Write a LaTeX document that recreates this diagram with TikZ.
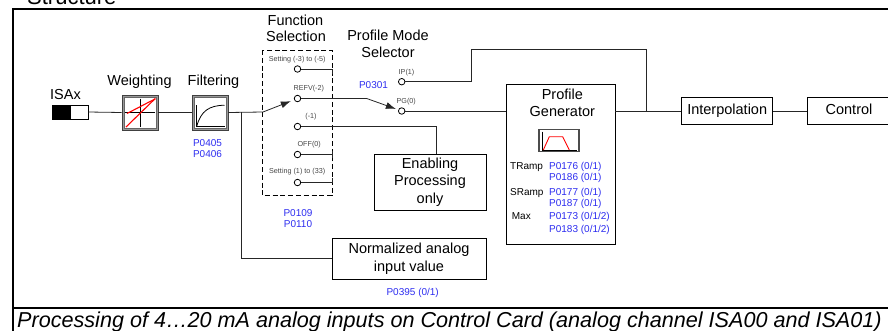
\documentclass[tikz,border=0pt]{standalone}
\usepackage{fontspec}
\setmainfont{Liberation Sans}
\usetikzlibrary{arrows.meta}
\definecolor{pblue}{RGB}{45,45,240}
\definecolor{lgray}{RGB}{70,70,70}
\begin{document}
\begin{tikzpicture}[x=1pt,y=-1pt,
  conn/.style={line width=0.8pt, draw=black!85},
  box/.style={draw=black, line width=0.8pt, fill=white, inner sep=0pt, align=center,
              font=\fontsize{14.5}{17.5}\selectfont},
  onebox/.style={box, text height=10.5pt, text depth=3pt},
  bevel/.style={draw=black!75, line width=0.7pt, fill=black!40, inner sep=0pt},
  big/.style={font=\fontsize{14.5}{17}\selectfont, inner sep=0pt, anchor=base},
  par/.style={font=\fontsize{10}{12}\selectfont, text=pblue, inner sep=0pt, anchor=base},
  parl/.style={font=\fontsize{10}{12}\selectfont, text=pblue, inner sep=0pt, anchor=base west},
  lbl/.style={font=\fontsize{10}{12}\selectfont, inner sep=0pt, anchor=base west},
  sw/.style={font=\fontsize{7.2}{8.5}\selectfont, text=lgray, inner sep=0pt, anchor=base},
  contact/.style={circle, draw=black, line width=0.8pt, fill=white, minimum size=6.5pt, inner sep=0pt},
  arr/.style={-{Latex[length=10pt,width=7pt]}}
]
\useasboundingbox (0,0) rectangle (888,330);

% heading (mostly cut off) and frame
\node[font=\fontsize{22}{26}\selectfont, inner sep=0pt, anchor=base west] (hdr) at (27,4) {Structure};
\draw[line width=2pt] (13,345) -- (13,9) -- (905,9);
\draw[line width=2.3pt] (12,308) -- (905,308);
\node[font=\fontsize{21.6}{24}\selectfont\itshape, inner sep=0pt, anchor=base west] (cap) at (17,327.5)
  {Processing of 4…20 mA analog inputs on Control Card (analog channel ISA00 and ISA01)};

% ISAx connector
\node[big] (isaxl) at (65.5,99) {ISAx};
\node[draw=black, line width=0.8pt, minimum width=36pt, minimum height=14pt, inner sep=0pt] (isax) at (70,112) {};
\fill (isax.north west) rectangle ([xshift=19pt]isax.south west);

% Weighting
\node[big] (wtl) at (139.5,85) {Weighting};
\node[bevel, minimum width=36pt, minimum height=35pt] (wt) at (140,112.5) {};
\draw[draw=black!60, fill=white, line width=0.5pt] ([shift={(2.6,2.6)}]wt.north west) rectangle ([shift={(-2.6,-2.6)}]wt.south east);
\draw[line width=0.7pt] (140,98.5) -- (140,127);
\draw[line width=0.7pt] (125,112.5) -- (155,112.5);
\draw[red, line width=1.1pt] (126,127) -- (155.3,98.5);
\draw[red, line width=1.1pt] (127,113.5) -- (155.3,98.8);

% Filtering
\node[big] (fltl) at (213.5,85) {Filtering};
\node[bevel, minimum width=36pt, minimum height=35pt] (flt) at (210,112.5) {};
\draw[draw=black!60, fill=white, line width=0.5pt] ([shift={(2.6,2.6)}]flt.north west) rectangle ([shift={(-2.6,-2.6)}]flt.south east);
\draw[line width=0.7pt] (196.3,105) -- (196.3,126.5) -- (225,126.5);
\draw[line width=0.8pt] (196.8,126) .. controls (201,111) and (209,105.5) .. (224.5,105.2);
\node[par] (p405) at (207.5,146.6) {P0405};
\node[par] (p406) at (207.5,157.6) {P0406};

% Function selection
\node[big] (fs1) at (295.5,25.7) {Function};
\node[big] (fs2) at (296,41.7) {Selection};
\draw[line width=0.9pt, dash pattern=on 5pt off 2.8pt] (262,50) rectangle (332,195.5);
\node[contact] (c1) at (297.5,69) {};
\node[contact] (c2) at (297.5,98.5) {};
\node[contact] (c3) at (297.5,126.5) {};
\node[contact] (c4) at (297.5,154.5) {};
\node[contact] (c5) at (297.5,182.5) {};
\node[sw] (s1) at (297.2,61.2) {Setting (-3) to (-5)};
\node[sw] (s2) at (308.8,90.8) {REFV(-2)};
\node[sw] (s3) at (311,118.8) {(-1)};
\node[sw] (s4) at (309.2,146) {OFF(0)};
\node[sw] (s5) at (297.2,173.2) {Setting (1) to (33)};
\node[par] (p109) at (298,216) {P0109};
\node[par] (p110) at (298,227.6) {P0110};

\coordinate (e1) at (332,69);
\coordinate (e1b) at (332,74);
\coordinate (e4) at (332,154.5);
\coordinate (e4a) at (332,151);
\coordinate (e4b) at (332,158);
\coordinate (e5) at (332,182.5);
\coordinate (e5a) at (332,177.5);
\draw[conn] (c1.east) -- (e1) -- (e1b);
\draw[conn] (c4.east) -- (e4);
\draw[conn] (e4a) -- (e4b);
\draw[conn] (c5.east) -- (e5) -- (e5a);

% Profile mode selector
\node[big] (pm1) at (388,40) {Profile Mode};
\node[big] (pm2) at (388,57.3) {Selector};
\node[par] (p301) at (373.5,88) {P0301};
\node[contact] (ip) at (401.7,81.7) {};
\node[contact] (pg0) at (401.7,111) {};
\node[sw] (ipl) at (406.5,74.4) {IP(1)};
\node[sw] (pgl) at (406.2,103.4) {PG(0)};

% Enabling processing only
\node[box, minimum width=112pt, minimum height=56pt] (en) at (430,182)
  {Enabling\\Processing\\only};

% Normalized analog input value
\node[box, minimum width=154pt, minimum height=41pt] (nrm) at (409,258.5)
  {Normalized analog\\input value};
\node[par] (p395) at (412.7,295.3) {P0395 (0/1)};

% Profile generator
\node[draw=black, line width=0.8pt, fill=white, minimum width=108.3pt, minimum height=160pt, inner sep=0pt] (pgen) at (560.85,164.3) {};
\node[big] (pg1) at (562.3,99.3) {Profile};
\node[big] (pg2) at (562.3,116.7) {Generator};
\node[draw=black!70, line width=1.1pt, fill=white, minimum width=40pt, minimum height=22.4pt, inner sep=0pt] (ramp) at (559,140.5) {};
\draw[line width=0.6pt] (542,131.5) -- (542,150) -- (576.5,150);
\draw[red, line width=0.9pt] (543.3,150) -- (549.3,136.7) -- (562.7,136.7) -- (569.3,150);
\node[lbl] (tr) at (510,169.3) {TRamp};
\node[parl] (p176) at (549,169.3) {P0176 (0/1)};
\node[parl] (p186) at (549,180.3) {P0186 (0/1)};
\node[lbl] (sr) at (510,195.3) {SRamp};
\node[parl] (p177) at (549,195.3) {P0177 (0/1)};
\node[parl] (p187) at (549,206.9) {P0187 (0/1)};
\node[lbl] (mx) at (511.7,219.6) {Max};
\node[parl] (p173) at (549,219.6) {P0173 (0/1/2)};
\node[parl] (p183) at (549,232.9) {P0183 (0/1/2)};

% Interpolation and control
\node[onebox, minimum width=91pt, minimum height=27.6pt] (itp) at (727.2,111) {Interpolation};
\node[onebox, minimum width=84pt, minimum height=27.6pt] (ctl) at (849,111) {Control};

% connectors
\coordinate (j1) at (241,112);
\coordinate (kin) at (263,112);
\coordinate (bend) at (366.7,98.5);
\coordinate (b3) at (436.7,126.5);
\coordinate (ipa) at (471.7,81.7);
\coordinate (ipb) at (471.7,49.5);
\coordinate (ipc) at (646,49.5);
\coordinate (j2) at (646,111);

\draw[conn] (isax.east) -- (wt.west);
\draw[conn] (wt.east) -- (flt.west);
\draw[conn, arr, shorten >=3.5pt] (flt.east) -- (kin) -- (c2);
\draw[conn] (j1) |- (nrm.west);
\draw[conn, arr, shorten >=2.5pt] (c2.east) -- (bend) -- (pg0);
\draw[conn] (c3.east) -- (b3) -- (b3 |- en.north);
\draw[conn] (ip.east) -- (ipa) -- (ipb) -- (ipc) -- (j2);
\draw[conn] (pg0.east) -- (pg0.east -| pgen.west);
\draw[conn] (pgen.east |- j2) -- (itp.west);
\draw[conn] (itp.east) -- (ctl.west);
\end{tikzpicture}
\end{document}
